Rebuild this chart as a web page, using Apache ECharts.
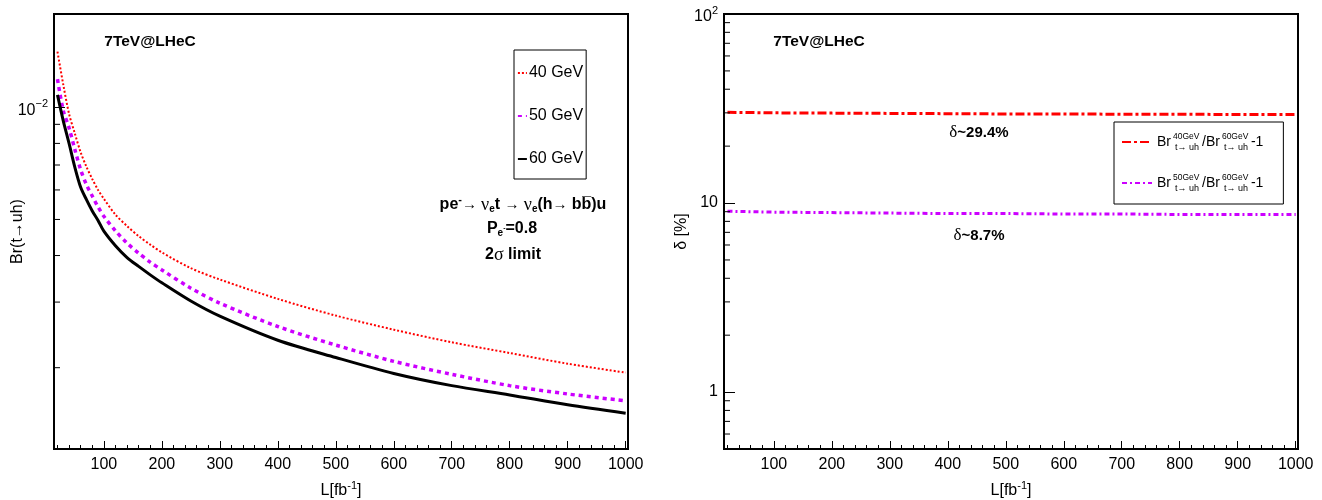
<!DOCTYPE html>
<html><head><meta charset="utf-8">
<script src="https://cdn.jsdelivr.net/npm/echarts@6/dist/echarts.min.js"></script>
<style>html,body{margin:0;padding:0;background:#fff}#c{width:1322px;height:500px}</style>
</head><body><div id="c"></div>
<script>
// ---------------- data ----------------
const lumi = [20,30,40,50,60,70,80,90,100,120,140,160,180,200,250,300,400,500,600,700,800,900,1000];
const br40 = [0.0141,0.0115,0.0096,0.0085,0.00757,0.00692,0.00642,0.0060,0.00568,0.00515,0.00480,0.00451,0.00428,0.00408,0.00370,0.00345,0.00306,0.00276,0.00253,0.00234,0.00219,0.00205,0.00194];
const br50 = [0.0119,0.0098,0.0088,0.0077,0.0068,0.0062,0.00578,0.0054,0.0051,0.00466,0.00432,0.00406,0.00384,0.00366,0.00327,0.00298,0.00258,0.00230,0.00208,0.00192,0.00179,0.00170,0.00163];
const br60 = [0.0108,0.0092,0.0080,0.0069,0.0061,0.00565,0.00527,0.00497,0.00465,0.00425,0.00395,0.00374,0.00355,0.00338,0.00302,0.00275,0.00237,0.00213,0.00193,0.00179,0.00169,0.00159,0.00151];
const lumiRatio = [20,100,200,300,400,500,600,700,800,900,1000];
const delta40 = [30.2,30.0,29.9,29.8,29.7,29.6,29.6,29.5,29.5,29.4,29.4];
const delta50 = [9.05,8.95,8.9,8.85,8.8,8.8,8.75,8.75,8.7,8.7,8.7];
const xTickLabels = [100,200,300,400,500,600,700,800,900,1000];
const xMinorTicks = [20,40,60,80,120,140,160,180,220,240,260,280,320,340,360,380,420,440,460,480,520,540,560,580,620,640,660,680,720,740,760,780,820,840,860,880,920,940,960,980];
const leftMinorY = [0.002,0.003,0.004,0.005,0.006,0.007,0.008,0.009];
const rightMinorY = [0.6,0.7,0.8,0.9,2,3,4,5,6,7,8,9,20,30,40,50,60,70,80,90];
const seriesNames = ['40 GeV','50 GeV','60 GeV'];
const ratioNames = ['r40','r50'];
const ratioLabels = {
  r40: 'Br{sup|40GeV}{sub|t\u2192 uh}/Br{sup|60GeV}{sub|t\u2192 uh}-1',
  r50: 'Br{sup|50GeV}{sub|t\u2192 uh}/Br{sup|60GeV}{sub|t\u2192 uh}-1'
};

// ---------------- style ----------------
const F = 'Liberation Sans, Arial, Helvetica, sans-serif';
const G = 'Liberation Serif, Times New Roman, serif';
const X_MIN = 14, X_MAX = 1004;
const RED = '#ff0000', MAG = '#cc00ff';

function pairs(xs, ys){ return xs.map((x,i)=>[x, ys[i]]); }
function isPow10(v){ const l = Math.log10(v); return Math.abs(l - Math.round(l)) < 1e-6; }
const powRich = {
  b:{fontSize:16, fontFamily:F, color:'#000', padding:[6,0,0,0]},
  sup:{fontSize:11, fontFamily:F, color:'#000', padding:[0,0,6,0]}
};

function mainX(grid){
  return {gridIndex:grid, type:'value', min:X_MIN, max:X_MAX, position:'bottom',
    axisLine:{show:true, onZero:false, lineStyle:{color:'#000', width:2}},
    axisTick:{show:true, inside:true, length:8, customValues:xTickLabels, lineStyle:{color:'#000', width:1}},
    axisLabel:{customValues:xTickLabels, color:'#000', fontSize:16, fontFamily:F, margin:8, formatter:(v)=>String(v)},
    splitLine:{show:false},
    name:'L[fb{sup|-1}]', nameLocation:'middle', nameGap:31, nameMoveOverlap:false,
    nameTextStyle:{color:'#000', fontSize:16, fontFamily:F, rich:{sup:{fontSize:11, fontFamily:F, padding:[0,0,10,0]}}}
  };
}
function minorX(grid){
  return {gridIndex:grid, type:'value', min:X_MIN, max:X_MAX, position:'bottom',
    axisLine:{show:false}, axisLabel:{show:false}, splitLine:{show:false},
    axisTick:{show:true, inside:true, length:4, customValues:xMinorTicks, lineStyle:{color:'#000', width:1}}};
}
function minorYSeries(xi, yi, vals){
  return {type:'custom', xAxisIndex:xi, yAxisIndex:yi, silent:true, clip:false, z:10,
    data: vals.map(v=>[X_MIN, v]),
    renderItem:(params, api)=>{
      const p = api.coord([api.value(0), api.value(1)]);
      return {type:'line', shape:{x1:p[0], y1:p[1], x2:p[0]+6, y2:p[1]}, style:{stroke:'#000', lineWidth:1}};
    }};
}

const chart = echarts.init(document.getElementById('c'), null, {renderer:'canvas'});
const option = {
  backgroundColor:'#fff',
  animation:false,
  grid:[
    {left:54, top:14, width:574, height:435, show:true, borderColor:'#000', borderWidth:2, backgroundColor:'transparent', outerBoundsMode:'none', containLabel:false},
    {left:724, top:14, width:574, height:435, show:true, borderColor:'#000', borderWidth:2, backgroundColor:'transparent', outerBoundsMode:'none', containLabel:false}
  ],
  xAxis:[mainX(0), minorX(0), mainX(1), minorX(1)],
  yAxis:[
    {gridIndex:0, type:'log', logBase:10, min:0.00121, max:0.0178,
      axisLine:{show:true, lineStyle:{color:'#000', width:2}},
      axisTick:{show:true, inside:true, length:11, lineStyle:{color:'#000', width:1}},
      axisLabel:{color:'#000', fontSize:16, fontFamily:F, margin:6,
        formatter:(v)=>{ if(!isPow10(v)) return ''; const e=Math.round(Math.log10(v)); return '{b|10}{sup|\u2212'+(-e)+'}'; },
        rich:powRich},
      splitLine:{show:false},
      name:'Br(t\u2192uh)', nameLocation:'middle', nameGap:28, nameMoveOverlap:false,
      nameTextStyle:{color:'#000', fontSize:16, fontFamily:F}},
    {gridIndex:1, type:'log', logBase:10, min:0.5, max:100,
      axisLine:{show:true, lineStyle:{color:'#000', width:2}},
      axisTick:{show:true, inside:true, length:11, lineStyle:{color:'#000', width:1}},
      axisLabel:{color:'#000', fontSize:16, fontFamily:F, margin:6,
        formatter:(v)=>{ if(!isPow10(v)) return ''; const e=Math.round(Math.log10(v)); if(e===0) return '1'; if(e===1) return '10'; return '{b|10}{sup|'+e+'}'; },
        rich:powRich},
      splitLine:{show:false},
      name:'\u03b4 [%]', nameLocation:'middle', nameGap:34, nameMoveOverlap:false,
      nameTextStyle:{color:'#000', fontSize:16, fontFamily:F}}
  ],
  legend:[
    {data:seriesNames, orient:'vertical', left:514, top:50, itemWidth:9, itemHeight:16, itemGap:27,
      padding:[15,3,12,2], borderColor:'#000', borderWidth:1, backgroundColor:'#fff', selectedMode:false,
      itemStyle:{opacity:0},
      textStyle:{fontSize:16, fontFamily:F, color:'#000', padding:[0,0,0,-3]}},
    {data:ratioNames, orient:'vertical', left:1114, top:122, itemWidth:30, itemHeight:20, itemGap:21,
      padding:[10,20,11,7], borderColor:'#000', borderWidth:1, backgroundColor:'#fff', selectedMode:false,
      itemStyle:{opacity:0},
      formatter:(n)=>ratioLabels[n],
      textStyle:{fontSize:14, fontFamily:F, color:'#000', lineHeight:20,
        rich:{sup:{fontSize:8.5, fontFamily:F, color:'#000', verticalAlign:'top', width:0, padding:[0,0,0,2]},
              sub:{fontSize:9, fontFamily:F, color:'#000', verticalAlign:'bottom', padding:[0,3,0,2]}}}}
  ],
  series:[
    {name:seriesNames[0], type:'line', xAxisIndex:0, yAxisIndex:0, data:pairs(lumi, br40), symbol:'none', smooth:0.3,
      lineStyle:{color:RED, width:2, type:[2,2]}, itemStyle:{color:RED}, z:3},
    {name:seriesNames[1], type:'line', xAxisIndex:0, yAxisIndex:0, data:pairs(lumi, br50), symbol:'none', smooth:0.3,
      lineStyle:{color:MAG, width:3.5, type:[4,4]}, itemStyle:{color:MAG}, z:3},
    {name:seriesNames[2], type:'line', xAxisIndex:0, yAxisIndex:0, data:pairs(lumi, br60), symbol:'none', smooth:0.3,
      lineStyle:{color:'#000', width:3}, itemStyle:{color:'#000'}, z:3},
    {name:ratioNames[0], type:'line', xAxisIndex:2, yAxisIndex:1, data:pairs(lumiRatio, delta40), symbol:'none',
      lineStyle:{color:RED, width:3, type:[9,3,3,3]}, itemStyle:{color:RED}, z:3},
    {name:ratioNames[1], type:'line', xAxisIndex:2, yAxisIndex:1, data:pairs(lumiRatio, delta50), symbol:'none',
      lineStyle:{color:MAG, width:3, type:[5,3,2,3]}, itemStyle:{color:MAG}, z:3},
    minorYSeries(0, 0, leftMinorY),
    minorYSeries(2, 1, rightMinorY)
  ],
  graphic:[
    {type:'text', x:150, y:42, style:{text:'7TeV@LHeC', font:'bold 15.5px '+F, fill:'#000', align:'center', verticalAlign:'middle', textAlign:'center', textVerticalAlign:'middle'}},
    {type:'text', x:819, y:42, style:{text:'7TeV@LHeC', font:'bold 15.5px '+F, fill:'#000', align:'center', verticalAlign:'middle', textAlign:'center', textVerticalAlign:'middle'}},
    {type:'text', x:523, y:205, style:{
      text:'{b|pe}{bs|-}{a|\u2192 }{g|\u03bd}{sub|e}{b|t }{a|\u2192 }{g|\u03bd}{sub|e}{b|(h}{a|\u2192 }{b|bb\u0305)u}',
      align:'center', verticalAlign:'middle', textAlign:'center', textVerticalAlign:'middle', fill:'#000',
      rich:{b:{font:'bold 16px '+F, color:'#000'},
            bs:{font:'bold 11px '+F, color:'#000', padding:[0,0,10,0]},
            a:{font:'15px '+F, color:'#000'},
            g:{font:'18px '+G, color:'#000'},
            sub:{font:'bold 10px '+F, color:'#000', padding:[9,0,0,0]}}}},
    {type:'text', x:512, y:229, style:{
      text:'{b|P}{sub|e}{bs|-}{b|=0.8}',
      align:'center', verticalAlign:'middle', textAlign:'center', textVerticalAlign:'middle', fill:'#000',
      rich:{b:{font:'bold 16px '+F, color:'#000'},
            bs:{font:'bold 7px '+F, color:'#000', padding:[0,0,2,0]},
            sub:{font:'bold 10px '+F, color:'#000', padding:[9,0,0,0]}}}},
    {type:'text', x:513, y:255, style:{
      text:'{b|2}{g|\u03c3}{b| limit}',
      align:'center', verticalAlign:'middle', textAlign:'center', textVerticalAlign:'middle', fill:'#000',
      rich:{b:{font:'bold 16px '+F, color:'#000'}, g:{font:'18px '+G, color:'#000'}}}},
    {type:'text', x:979, y:133, style:{
      text:'{g|\u03b4}{b|~29.4%}',
      align:'center', verticalAlign:'middle', textAlign:'center', textVerticalAlign:'middle', fill:'#000',
      rich:{b:{font:'bold 15px '+F, color:'#000'}, g:{font:'17px '+G, color:'#000'}}}},
    {type:'text', x:979, y:236, style:{
      text:'{g|\u03b4}{b|~8.7%}',
      align:'center', verticalAlign:'middle', textAlign:'center', textVerticalAlign:'middle', fill:'#000',
      rich:{b:{font:'bold 15px '+F, color:'#000'}, g:{font:'17px '+G, color:'#000'}}}}
  ]
};
chart.setOption(option);
</script>
</body></html>
